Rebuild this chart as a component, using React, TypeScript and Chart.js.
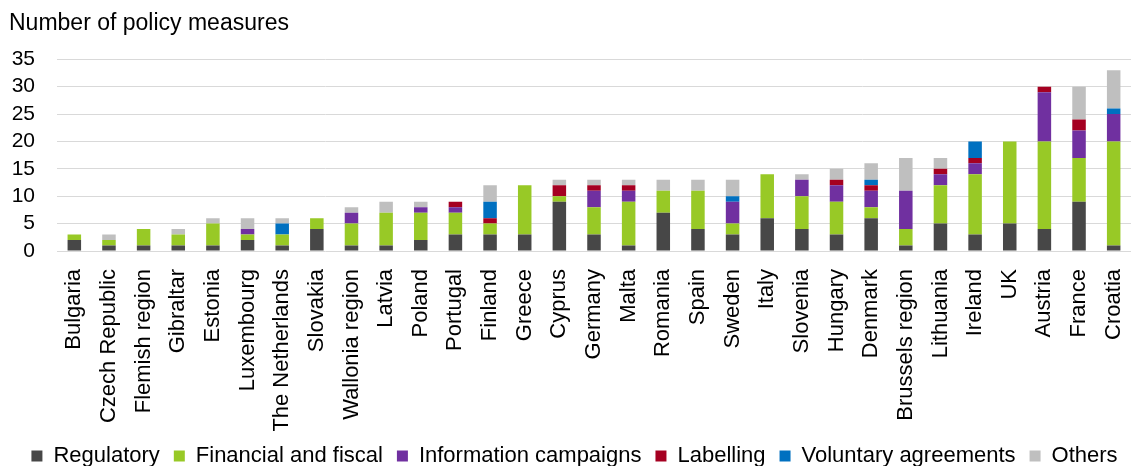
import React, { useEffect, useRef } from "react";
import { Chart, registerables } from "chart.js";

Chart.register(...registerables);

const categories = [
  "Bulgaria", "Czech Republic", "Flemish region", "Gibraltar", "Estonia", "Luxembourg",
  "The Netherlands", "Slovakia", "Wallonia region", "Latvia", "Poland", "Portugal",
  "Finland", "Greece", "Cyprus", "Germany", "Malta", "Romania", "Spain", "Sweden",
  "Italy", "Slovenia", "Hungary", "Denmark", "Brussels region", "Lithuania", "Ireland",
  "UK", "Austria", "France", "Croatia",
];

const regulatory = [2, 1, 1, 1, 1, 2, 1, 4, 1, 1, 2, 3, 3, 3, 9, 3, 1, 7, 4, 3, 6, 4, 3, 6, 1, 5, 3, 5, 4, 9, 1];
const financial = [1, 1, 3, 2, 4, 1, 2, 2, 4, 6, 5, 4, 2, 9, 1, 5, 8, 4, 7, 2, 8, 6, 6, 2, 3, 7, 11, 15, 16, 8, 19];
const information = [0, 0, 0, 0, 0, 1, 0, 0, 2, 0, 1, 1, 0, 0, 0, 3, 2, 0, 0, 4, 0, 3, 3, 3, 7, 2, 2, 0, 9, 5, 5];
const labelling = [0, 0, 0, 0, 0, 0, 0, 0, 0, 0, 0, 1, 1, 0, 2, 1, 1, 0, 0, 0, 0, 0, 1, 1, 0, 1, 1, 0, 1, 2, 0];
const voluntary = [0, 0, 0, 0, 0, 0, 2, 0, 0, 0, 0, 0, 3, 0, 0, 0, 0, 0, 0, 1, 0, 0, 0, 1, 0, 0, 3, 0, 0, 0, 1];
const others = [0, 1, 0, 1, 1, 2, 1, 0, 1, 2, 1, 0, 3, 0, 1, 1, 1, 2, 2, 3, 0, 1, 2, 3, 6, 2, 0, 0, 0, 6, 7];

const yTicks = [0, 5, 10, 15, 20, 25, 30, 35];

const seriesNames = [
  "Regulatory", "Financial and fiscal", "Information campaigns",
  "Labelling", "Voluntary agreements", "Others",
];
const seriesData = [regulatory, financial, information, labelling, voluntary, others];
const seriesColors = ["#474747", "#98c926", "#7030a0", "#a50021", "#0070c0", "#bfbfbf"];

const FONT = "'Liberation Sans', Arial, sans-serif";

export default function App() {
  const ref = useRef<HTMLCanvasElement | null>(null);

  useEffect(() => {
    const canvas = ref.current;
    if (!canvas) return;
    const chart = new Chart(canvas, {
      type: "bar",
      data: {
        labels: categories,
        datasets: seriesNames.map((name, i) => ({
          label: name,
          data: seriesData[i],
          backgroundColor: seriesColors[i],
          borderWidth: 0,
          barPercentage: 0.39,
          categoryPercentage: 1,
        })),
      },
      options: {
        animation: false,
        responsive: false,
        maintainAspectRatio: false,
        layout: { padding: { left: 9, right: -3, top: 0, bottom: -11 } },
        plugins: {
          title: {
            display: true,
            text: "Number of policy measures",
            align: "start",
            color: "#000",
            font: { family: FONT, size: 23, weight: "normal" },
            padding: { top: 10, bottom: 21.7 },
          },
          legend: {
            position: "bottom",
            labels: {
              color: "#000",
              font: { family: FONT, size: 22 },
              boxWidth: 11,
              boxHeight: 11,
              padding: 14,
            },
          },
          tooltip: { enabled: false },
        },
        scales: {
          x: {
            stacked: true,
            grid: { display: false },
            border: { display: false },
            afterFit: (scale: any) => {
              scale.height = 180;
              scale.paddingLeft = 0;
              scale.paddingRight = 6;
            },
            ticks: {
              color: "#000",
              font: { family: FONT, size: 22 },
              minRotation: 90,
              maxRotation: 90,
              autoSkip: false,
              padding: 10,
            },
          },
          y: {
            stacked: true,
            min: 0,
            max: 35,
            afterFit: (scale: any) => {
              scale.width = 48;
            },
            afterBuildTicks: (scale: any) => {
              scale.ticks = yTicks.map((v) => ({ value: v }));
            },
            grid: { color: "#d9d9d9", lineWidth: 1, drawTicks: false },
            border: { display: false },
            ticks: {
              color: "#000",
              font: { family: FONT, size: 21 },
              padding: 22,
              autoSkip: false,
            },
          },
        },
      },
    });
    return () => chart.destroy();
  }, []);

  return (
    <div style={{ position: "fixed", left: 0, top: 0, width: 1137, height: 466, background: "#fff" }}>
      <canvas ref={ref} width={1137} height={466} style={{ width: 1137, height: 466 }} />
    </div>
  );
}
